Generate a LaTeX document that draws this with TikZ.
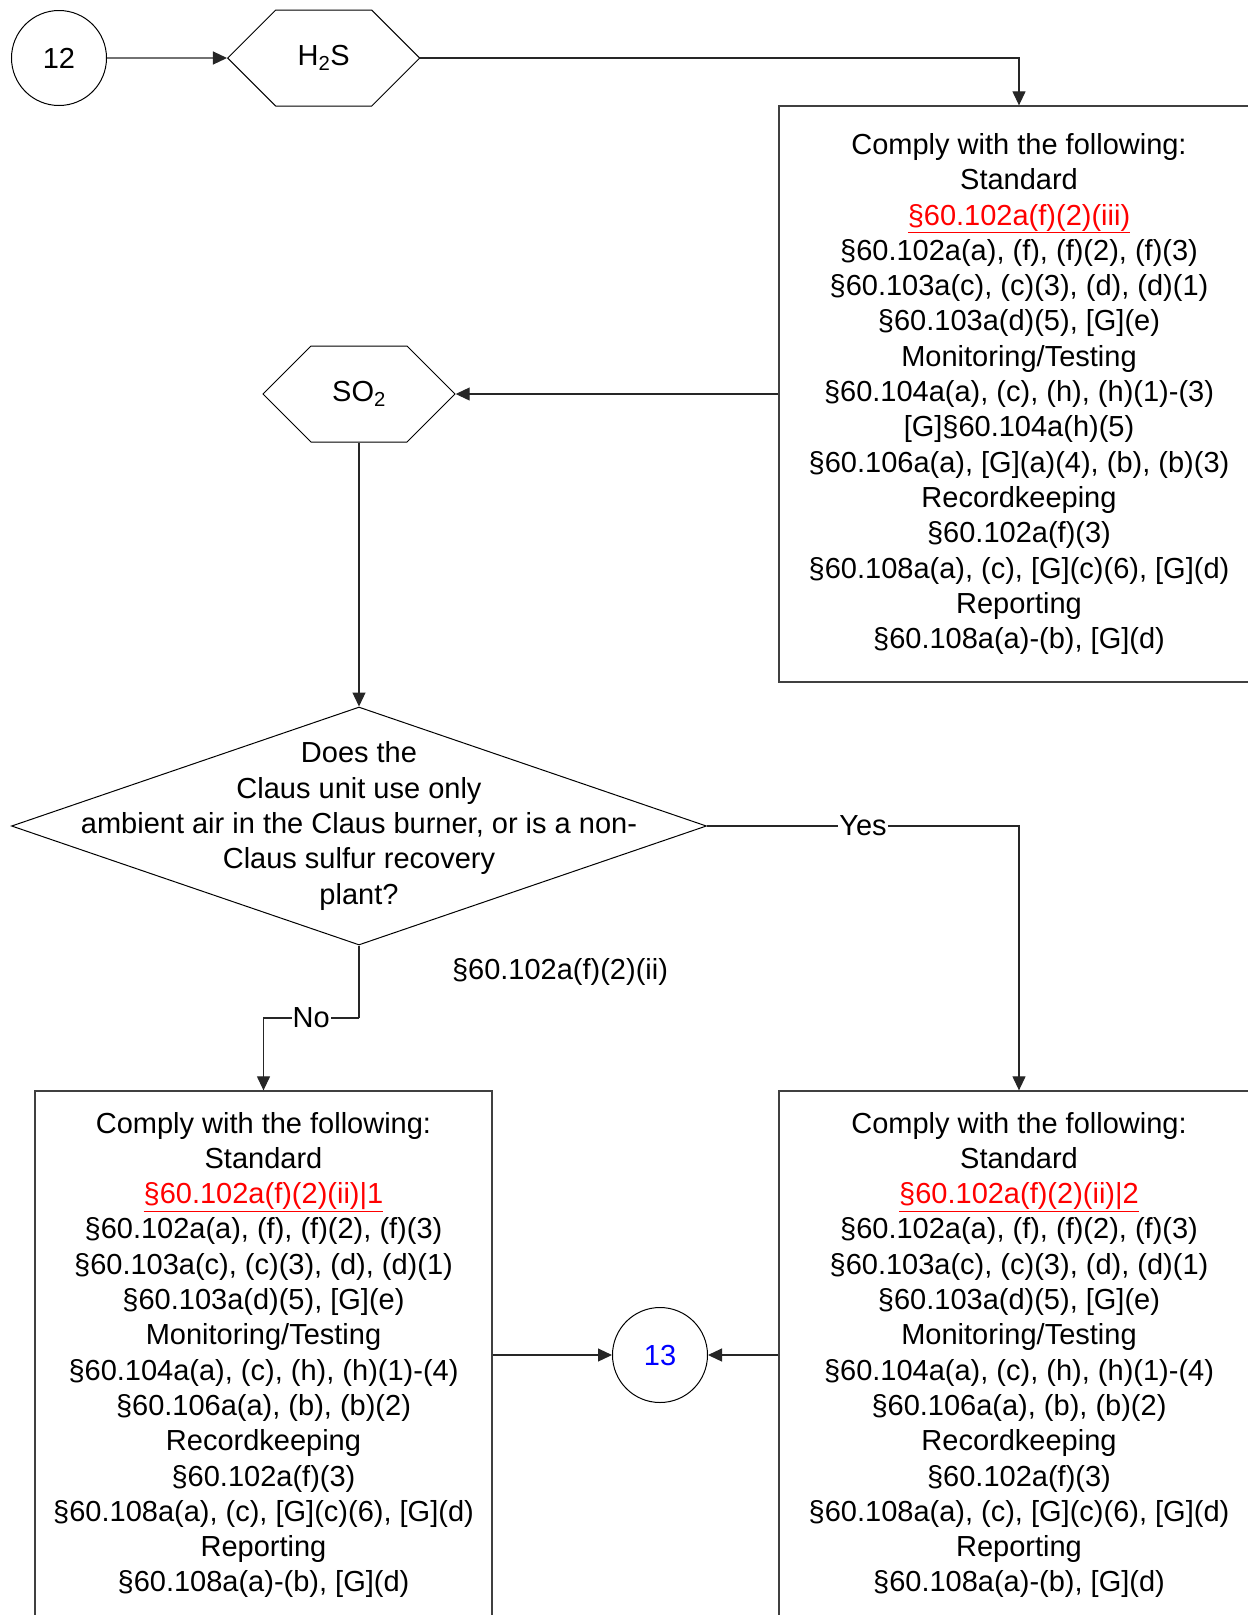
\documentclass[tikz,border=0pt]{standalone}
\usepackage{fontspec}
\setmainfont{Liberation Sans}
\usetikzlibrary{positioning,shapes.geometric,shapes.symbols,arrows.meta}

\begin{document}
\begin{tikzpicture}[x=1pt, y=-1pt, node distance=120pt,
  every node/.style={font=\fontsize{29}{35.3}\selectfont},
  conn/.style={draw=black!85, line width=1.2pt, -{Triangle[length=14pt,width=13pt]}},
  wire/.style={draw=black!85, line width=1.2pt},
  term/.style={draw, circle, minimum size=95pt, inner sep=0pt, line width=1pt},
  gas/.style={draw, signal, signal to=east and west, signal pointer angle=90,
    minimum width=192pt, minimum height=96pt, inner sep=0pt, line width=1pt},
  stdbox/.style={draw=black!75, rectangle, align=center, line width=1.3pt},
  ask/.style={draw, diamond, minimum width=695pt, minimum height=238pt, inner sep=0pt, line width=1pt},
  tag/.style={fill=white, inner sep=1pt}]

  \useasboundingbox (0,0) rectangle (1248,1615);
  \clip (0,0) rectangle (1248,1615);

  \node[term] (c12) at (59,58) {12};
  \node[gas, right=of c12] (h2s) {H\textsubscript{2}S};

  \node[stdbox, minimum width=480pt, minimum height=576pt] (std0) at (1019,394) {Comply with the following:\\
    Standard\\
    \textcolor{red}{\underline{§60.102a(f)(2)(iii)}}\\
    §60.102a(a), (f), (f)(2), (f)(3)\\
    §60.103a(c), (c)(3), (d), (d)(1)\\
    §60.103a(d)(5), [G](e)\\
    Monitoring/Testing\\
    §60.104a(a), (c), (h), (h)(1)-(3)\\{}[G]§60.104a(h)(5)\\
    §60.106a(a), [G](a)(4), (b), (b)(3)\\
    Recordkeeping\\
    §60.102a(f)(3)\\
    §60.108a(a), (c), [G](c)(6), [G](d)\\
    Reporting\\
    §60.108a(a)-(b), [G](d)};

  \node[gas] (so2) at (359,394) {SO\textsubscript{2}};

  \node[ask, label={[align=center]center:Does the\\
    Claus unit use only\\
    ambient air in the Claus burner, or is a non-\\
    Claus sulfur recovery\\
    plant?}] (claus) at (359,826) {};

  \node (cite) at (560,972) {§60.102a(f)(2)(ii)};

  \node[stdbox, minimum width=457pt, minimum height=528pt] (std1) at (263.5,1355) {Comply with the following:\\
    Standard\\
    \textcolor{red}{\underline{§60.102a(f)(2)(ii)|1}}\\
    §60.102a(a), (f), (f)(2), (f)(3)\\
    §60.103a(c), (c)(3), (d), (d)(1)\\
    §60.103a(d)(5), [G](e)\\
    Monitoring/Testing\\
    §60.104a(a), (c), (h), (h)(1)-(4)\\
    §60.106a(a), (b), (b)(2)\\
    Recordkeeping\\
    §60.102a(f)(3)\\
    §60.108a(a), (c), [G](c)(6), [G](d)\\
    Reporting\\
    §60.108a(a)-(b), [G](d)};

  \node[stdbox, minimum width=480pt, minimum height=528pt] (std2) at (1019,1355) {Comply with the following:\\
    Standard\\
    \textcolor{red}{\underline{§60.102a(f)(2)(ii)|2}}\\
    §60.102a(a), (f), (f)(2), (f)(3)\\
    §60.103a(c), (c)(3), (d), (d)(1)\\
    §60.103a(d)(5), [G](e)\\
    Monitoring/Testing\\
    §60.104a(a), (c), (h), (h)(1)-(4)\\
    §60.106a(a), (b), (b)(2)\\
    Recordkeeping\\
    §60.102a(f)(3)\\
    §60.108a(a), (c), [G](c)(6), [G](d)\\
    Reporting\\
    §60.108a(a)-(b), [G](d)};

  \node[term, text=blue] (c13) at (660,1355) {13};

  \coordinate (nobend) at (359,1018);

  \draw[conn] (c12) -- (h2s);
  \draw[conn] (h2s.east) -| (std0.north);
  \draw[conn] (std0.west |- so2.east) -- (so2.east);
  \draw[conn] (so2.south) -- (claus.north);
  \draw[conn] (claus.east) -| node[tag, pos=0.25] {Yes} (std2.north);
  \draw[wire] (claus.south) -- (nobend);
  \draw[conn] (nobend) -| node[tag, pos=0.25] {No} (std1.north);
  \draw[conn] (std1.east |- c13.west) -- (c13.west);
  \draw[conn] (std2.west |- c13.east) -- (c13.east);

\end{tikzpicture}
\end{document}
